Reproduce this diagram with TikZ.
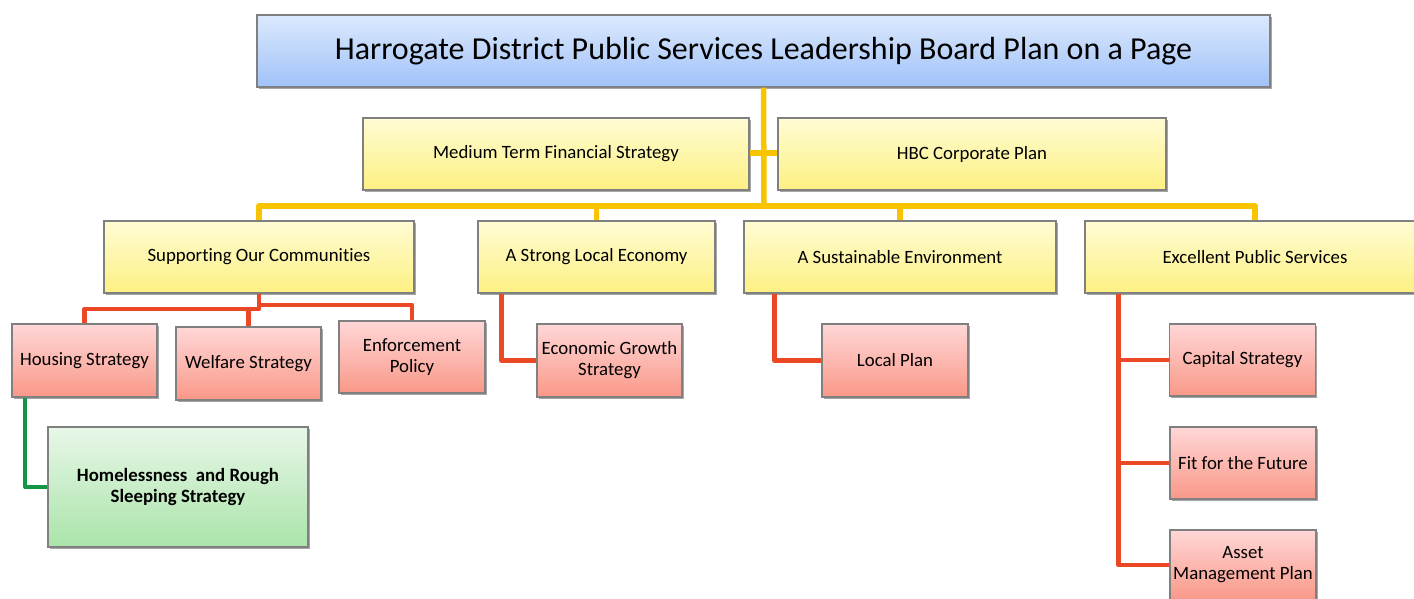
\documentclass[tikz,border=0pt]{standalone}
\usepackage{fontspec}
\setmainfont{Carlito}[Ligatures=NoCommon]
\usetikzlibrary{shadows,calc}
\definecolor{bordergray}{RGB}{128,128,128}
\definecolor{bluetop}{RGB}{220,233,253}
\definecolor{bluebot}{RGB}{160,194,248}
\definecolor{yeltop}{RGB}{255,252,212}
\definecolor{yelbot}{RGB}{253,240,130}
\definecolor{pinktop}{RGB}{255,215,215}
\definecolor{pinkbot}{RGB}{249,152,136}
\definecolor{greentop}{RGB}{232,247,232}
\definecolor{greenbot}{RGB}{170,228,170}
\definecolor{yline}{RGB}{248,196,0}
\definecolor{rline}{RGB}{235,72,38}
\definecolor{gline}{RGB}{18,150,70}
\tikzset{
  box/.style={draw=bordergray, line width=1.2pt, inner sep=2pt, align=center,
    drop shadow={shadow xshift=1.5pt, shadow yshift=-2pt, opacity=0.35, fill=black}},
  titlebox/.style={box, top color=bluetop, bottom color=bluebot, font=\fontsize{32}{38}\selectfont},
  ybox/.style={box, top color=yeltop, bottom color=yelbot, font=\fontsize{18.8}{21}\selectfont},
  pbox/.style={box, top color=pinktop, bottom color=pinkbot, font=\fontsize{18.8}{21}\selectfont},
  gbox/.style={box, top color=greentop, bottom color=greenbot, font=\fontsize{18.8}{21}\selectfont\bfseries},
  yl/.style={draw=yline, line width=5.5pt, line join=round},
  rd/.style={draw=rline, line width=4.5pt, line join=round},
  gr/.style={draw=gline, line width=4pt, line join=round},
}
\begin{document}
\begin{tikzpicture}[x=1pt,y=-1pt]
\useasboundingbox (0,0) rectangle (1414,599);
% nodes
\node[titlebox, minimum width=1013pt, minimum height=72pt] (title) at (763.5,51) {Harrogate District Public Services Leadership Board Plan on a Page};
\node[ybox, minimum width=386pt, minimum height=72pt] (mtfs) at (556,154) {Medium Term Financial Strategy};
\node[ybox, minimum width=388pt, minimum height=72pt] (hbc) at (972,154) {HBC Corporate Plan};
\node[ybox, minimum width=310pt, minimum height=72pt] (soc) at (259,257) {Supporting Our Communities};
\node[ybox, minimum width=237pt, minimum height=72pt] (sle) at (596.5,257) {A Strong Local Economy};
\node[ybox, minimum width=312pt, minimum height=72pt] (sen) at (900,257) {A Sustainable Environment};
\node[ybox, minimum width=340pt, minimum height=72pt] (eps) at (1255,257) {Excellent Public Services};
\node[pbox, minimum width=145pt, minimum height=73pt] (hou) at (84.5,360.5) {Housing Strategy};
\node[pbox, minimum width=145pt, minimum height=73pt] (wel) at (248.5,363.5) {Welfare Strategy};
\node[pbox, minimum width=146pt, minimum height=72pt] (enf) at (412,357) {Enforcement\\Policy};
\node[pbox, minimum width=145pt, minimum height=73pt] (eco) at (609.5,360.5) {Economic Growth\\Strategy};
\node[pbox, minimum width=146pt, minimum height=73pt] (loc) at (895,360.5) {Local Plan};
\node[pbox, minimum width=146pt, minimum height=72pt] (cap) at (1242.5,360) {Capital Strategy};
\node[pbox, minimum width=146pt, minimum height=72pt] (fit) at (1243,463) {Fit for the Future};
\node[pbox, minimum width=146pt, minimum height=70pt] (ast) at (1243,565) {Asset\\Management Plan};
\node[gbox, minimum width=260pt, minimum height=120pt] (hom) at (178,487) {Homelessness\ \ and Rough\\Sleeping Strategy};
% yellow connectors
\coordinate (ybus) at (764,206);
\coordinate (ymid) at (764,153);
\path[yl] (title.south) -- (ybus);
\path[yl] (mtfs.east |- ymid) -- (hbc.west |- ymid);
\path[yl] (soc.north) -- (soc.north |- ybus) -- (eps.north |- ybus) -- (eps.north);
\path[yl] (sle.north) -- (sle.north |- ybus);
\path[yl] (sen.north) -- (sen.north |- ybus);
% red connectors
\coordinate (rl) at (0,309);
\coordinate (rr) at (0,305);
\path[rd] (soc.south) -- (soc.south |- rl) -- (hou.north |- rl) -- (hou.north);
\path[rd] (wel.north) -- (wel.north |- rl);
\path[rd] (soc.south |- rr) -- (enf.north |- rr) -- (enf.north);
\path[rd] ([xshift=24pt]sle.south west) |- (eco.west);
\path[rd] ([xshift=31pt]sen.south west) |- (loc.west);
\coordinate (ex) at ([xshift=34pt]eps.south west);
\path[rd] (ex) |- (ast.west);
\path[rd] (cap.west) -- (cap.west -| ex);
\path[rd] (fit.west) -- (fit.west -| ex);
% green connector
\path[gr] ([xshift=14pt]hou.south west) |- (hom.west);
\end{tikzpicture}
\end{document}
